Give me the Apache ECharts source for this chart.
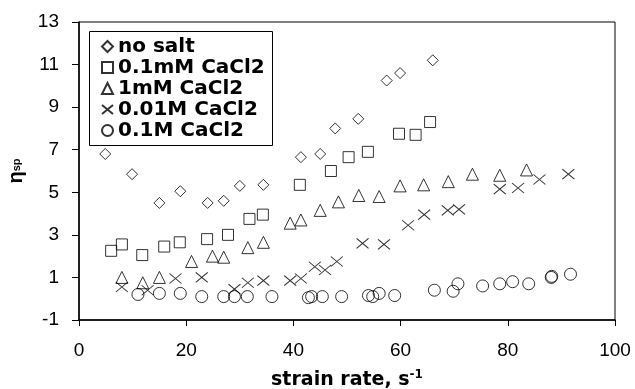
<!DOCTYPE html>
<html>
<head>
<meta charset="utf-8">
<script src="https://cdn.jsdelivr.net/npm/echarts@6/dist/echarts.min.js"></script>
<style>
  html, body { margin: 0; padding: 0; background: #fff; }
  #chart { width: 635px; height: 389px; }
</style>
</head>
<body>
<div id="chart"></div>
<script>
// strain rate (s-1), eta_sp
var noSalt = [[4.9,6.8],[9.9,5.85],[15.0,4.5],[18.9,5.05],[24.0,4.5],[27.0,4.6],[30.0,5.3],[34.4,5.35],
    [41.4,6.65],[45.0,6.8],[47.8,8.0],[52.1,8.45],[57.4,10.25],[59.9,10.6],[66.0,11.2]];
var caCl_01mM = [[6.0,2.25],[8.0,2.55],[11.8,2.05],[15.9,2.45],[18.8,2.65],[23.9,2.8],[27.8,3.0],[31.8,3.75],
    [34.3,3.95],[41.2,5.35],[47.0,6.0],[50.3,6.65],[53.9,6.9],[59.7,7.75],[62.8,7.7],[65.5,8.3]];
var caCl_1mM = [[8.0,1.0],[11.9,0.75],[15.0,1.0],[21.0,1.75],[24.9,2.0],[27.0,1.95],[31.5,2.4],[34.4,2.65],
    [39.4,3.55],[41.4,3.7],[45.0,4.15],[48.4,4.55],[52.2,4.85],[56.0,4.8],[59.9,5.3],[64.3,5.35],
    [68.9,5.5],[73.4,5.85],[78.5,5.8],[83.5,6.05]];
var caCl_001M = [[8.0,0.55],[12.8,0.4],[18.0,0.95],[22.9,1.0],[29.0,0.45],[31.5,0.75],[34.4,0.85],[39.4,0.85],
    [41.4,0.95],[44.0,1.5],[45.9,1.35],[48.1,1.75],[52.9,2.6],[56.9,2.55],[61.4,3.45],[64.4,3.95],
    [68.8,4.15],[70.9,4.2],[78.5,5.15],[81.9,5.2],[85.9,5.6],[91.3,5.85]];
var caCl_01M = [[11.0,0.2],[15.0,0.25],[18.9,0.25],[22.9,0.1],[27.0,0.1],[29.0,0.1],[31.4,0.1],[36.0,0.1],
    [42.8,0.05],[43.4,0.1],[45.4,0.1],[49.0,0.1],[54.0,0.15],[54.8,0.1],[56.0,0.25],[58.9,0.15],
    [66.3,0.4],[69.8,0.35],[70.7,0.7],[75.3,0.6],[78.5,0.7],[80.9,0.8],[83.9,0.7],[88.1,1.0],
    [88.2,1.05],[91.7,1.15]];

var seriesNames = ['no salt', '0.1mM CaCl2', '1mM CaCl2', '0.01M CaCl2', '0.1M CaCl2'];
var xTicks = [0, 20, 40, 60, 80, 100];
var yTicks = [-1, 1, 3, 5, 7, 9, 11, 13];

var FONT = 'Liberation Sans, Arial, sans-serif';
var BOLD_FONT = 'DejaVu Sans, sans-serif';

function markStyle() {
    return { color: 'rgba(0,0,0,0)', borderColor: '#000', borderWidth: 1 };
}

var chart = echarts.init(document.getElementById('chart'));
var option = {
    animation: false,
    backgroundColor: '#fff',
    grid: {
        left: 79, right: 20, top: 22, bottom: 69,
        outerBoundsMode: 'none',
        show: true, borderColor: '#000', borderWidth: 1
    },
    // legend frame
    graphic: [{
        type: 'rect', left: 87, top: 29, z: 100, silent: true,
        shape: { width: 183, height: 114 },
        style: { fill: 'none', stroke: '#000', lineWidth: 1 }
    }],
    legend: {
        orient: 'vertical',
        left: 87, top: 29,
        padding: [7, 8, 6, 14],
        itemGap: 0,
        itemWidth: 11, itemHeight: 11,
        textStyle: { color: '#000', fontSize: 20, fontWeight: 'bold', fontFamily: BOLD_FONT, lineHeight: 21 },
        data: seriesNames
    },
    xAxis: {
        type: 'value',
        min: xTicks[0], max: xTicks[xTicks.length - 1], interval: 20,
        name: '{a|strain rate, s}{b|-1}',
        nameLocation: 'middle',
        nameGap: 49,
        nameTextStyle: {
            rich: {
                a: { fontSize: 19, fontWeight: 'bold', fontFamily: BOLD_FONT, color: '#000', lineHeight: 22 },
                b: { fontSize: 12, fontWeight: 'bold', fontFamily: BOLD_FONT, color: '#000', verticalAlign: 'top', lineHeight: 12 }
            }
        },
        axisLine: { onZero: false, lineStyle: { color: '#000', width: 1.5 } },
        axisTick: { length: 6, lineStyle: { color: '#000' } },
        axisLabel: { color: '#000', fontSize: 19, fontFamily: FONT, margin: 21 },
        splitLine: { show: false }
    },
    yAxis: {
        type: 'value',
        min: yTicks[0], max: yTicks[yTicks.length - 1], interval: 2,
        name: '{a|η}{b|sp}',
        nameLocation: 'middle',
        nameRotate: 90,
        nameGap: 52,
        nameTextStyle: {
            rich: {
                a: { fontSize: 20, fontWeight: 'bold', fontFamily: FONT, color: '#000' },
                b: { fontSize: 11, fontWeight: 'bold', fontFamily: FONT, color: '#000' }
            }
        },
        axisLine: { show: true, onZero: false, lineStyle: { color: '#000', width: 1.5 } },
        axisTick: { show: true, length: 7, lineStyle: { color: '#000' } },
        axisLabel: { color: '#000', fontSize: 19, fontFamily: FONT, margin: 20 },
        splitLine: { show: false }
    },
    series: [
        { name: seriesNames[0], type: 'scatter', symbol: 'diamond', symbolSize: 11, itemStyle: markStyle(), data: noSalt },
        { name: seriesNames[1], type: 'scatter', symbol: 'rect', symbolSize: 11, itemStyle: markStyle(), data: caCl_01mM },
        { name: seriesNames[2], type: 'scatter', symbol: 'triangle', symbolSize: 12, itemStyle: markStyle(), data: caCl_1mM },
        { name: seriesNames[3], type: 'scatter', symbol: 'path://M0,0L12,10M12,0L0,10', symbolSize: [12, 10], itemStyle: markStyle(), data: caCl_001M },
        { name: seriesNames[4], type: 'scatter', symbol: 'circle', symbolSize: 12, itemStyle: markStyle(), data: caCl_01M }
    ]
};
chart.setOption(option);
</script>
</body>
</html>
